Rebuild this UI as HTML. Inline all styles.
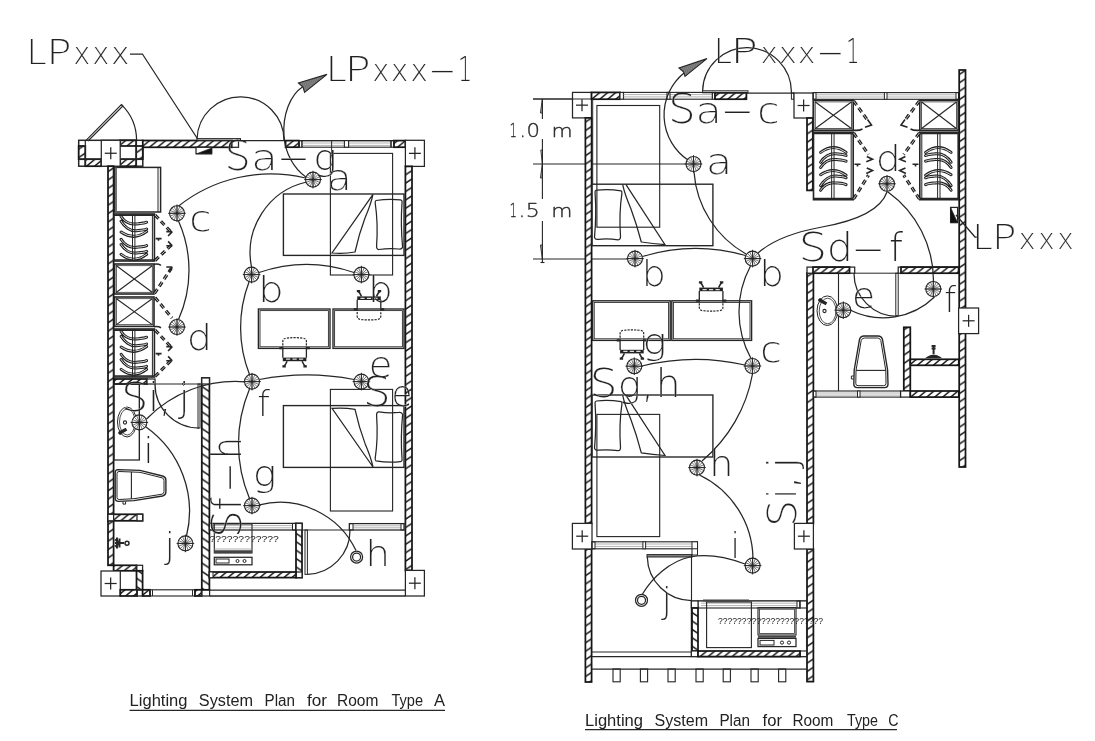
<!DOCTYPE html>
<html><head><meta charset="utf-8"><title>Lighting System Plan</title>
<style>
html,body{margin:0;padding:0;background:#fff;}
body{width:1095px;height:741px;overflow:hidden;}
svg{display:block;filter:grayscale(1);}
.t{font-family:"DejaVu Sans Light","DejaVu Sans","Liberation Sans",sans-serif;font-weight:200;paint-order:fill stroke;stroke:#fff;}
.s{font-family:"Liberation Sans",sans-serif;}
</style></head><body>
<svg width="1095" height="741" viewBox="0 0 1095 741">
<defs>
<pattern id="hv" patternUnits="userSpaceOnUse" width="12.6" height="8.4">
<rect width="12.6" height="8.4" fill="#fff"/>
<path d="M-12.6,8.4 L12.6,-8.4 M0,8.4 L12.6,0 M0,16.8 L25.2,0" stroke="#161616" stroke-width="1.45"/>
</pattern>
<pattern id="hvf" patternUnits="userSpaceOnUse" width="12.6" height="8.4">
<rect width="12.6" height="8.4" fill="#fff"/>
<path d="M-12.6,-8.4 L12.6,8.4 M0,-8.4 L25.2,8.4 M-12.6,0 L12.6,16.8" stroke="#161616" stroke-width="1.45"/>
</pattern>
<pattern id="hh" patternUnits="userSpaceOnUse" width="8" height="6.6">
<rect width="8" height="6.6" fill="#fff"/>
<path d="M-8,6.6 L8,-6.6 M0,6.6 L8,0 M0,13.2 L16,0" stroke="#161616" stroke-width="1.45"/>
</pattern>
<pattern id="h2" patternUnits="userSpaceOnUse" width="1.9" height="2" patternTransform="rotate(20)">
<rect width="2" height="2" fill="#fff"/><path d="M1,0 V2" stroke="#222" stroke-width="1.15"/>
</pattern>
<g id="lt">
<circle cx="0" cy="0" r="7.5" fill="#fff" stroke="#262626" stroke-width="1.1"/>
<path d="M0,0 L7.50,0.00 M0,0 L6.93,2.87 M0,0 L5.30,5.30 M0,0 L2.87,6.93 M0,0 L0.00,7.50 M0,0 L-2.87,6.93 M0,0 L-5.30,5.30 M0,0 L-6.93,2.87 M0,0 L-7.50,0.00 M0,0 L-6.93,-2.87 M0,0 L-5.30,-5.30 M0,0 L-2.87,-6.93 M0,0 L-0.00,-7.50 M0,0 L2.87,-6.93 M0,0 L5.30,-5.30 M0,0 L6.93,-2.87" stroke="#262626" stroke-width="0.62"/>
<path d="M-8.8,0 H8.8 M0,-8.8 V8.8" stroke="#262626" stroke-width="1"/>
</g>
</defs>
<rect width="1095" height="741" fill="#fff"/>
<rect x="78.70" y="140.30" width="64.10" height="25.90" fill="#fff" stroke="#262626" stroke-width="1.5"/>
<rect x="78.70" y="146.00" width="6.60" height="13.20" fill="url(#hv)" stroke="#161616" stroke-width="1.75"/>
<rect x="85.30" y="159.20" width="16.00" height="7.00" fill="url(#hh)" stroke="#161616" stroke-width="1.75"/>
<rect x="120.20" y="140.30" width="16.00" height="5.70" fill="url(#hh)" stroke="#161616" stroke-width="1.75"/>
<rect x="120.20" y="159.20" width="16.00" height="7.00" fill="url(#hh)" stroke="#161616" stroke-width="1.75"/>
<rect x="136.20" y="146.00" width="6.60" height="13.20" fill="url(#hv)" stroke="#161616" stroke-width="1.75"/>
<line x1="85.30" y1="140.30" x2="85.30" y2="166.20" stroke="#262626" stroke-width="1.25" />
<line x1="136.20" y1="140.30" x2="136.20" y2="166.20" stroke="#262626" stroke-width="1.25" />
<line x1="78.70" y1="146.00" x2="85.30" y2="146.00" stroke="#262626" stroke-width="1.25" />
<line x1="78.70" y1="159.20" x2="142.80" y2="159.20" stroke="#262626" stroke-width="1.25" />
<rect x="101.30" y="140.30" width="18.90" height="25.90" fill="#fff" stroke="#262626" stroke-width="1.25"/>
<line x1="104.75" y1="153.25" x2="116.75" y2="153.25" stroke="#262626" stroke-width="1.25" />
<line x1="110.75" y1="147.25" x2="110.75" y2="159.25" stroke="#262626" stroke-width="1.25" />
<path d="M86,140.3 L121.4,104.6 L122.9,106 L88,141" fill="none" stroke="#262626" stroke-width="1.12" />
<path d="M121.4,104.6 A50,50 0 0 1 136.6,140.3" fill="none" stroke="#262626" stroke-width="1.25" />
<rect x="142.80" y="140.50" width="89.20" height="6.80" fill="url(#hh)" stroke="#161616" stroke-width="1.75"/>
<rect x="232.00" y="140.50" width="6.50" height="6.80" fill="#fff" stroke="#262626" stroke-width="1.25"/>
<rect x="197.00" y="138.60" width="43.50" height="1.90" fill="none" stroke="#262626" stroke-width="1.0"/>
<line x1="238.50" y1="140.60" x2="405.40" y2="140.60" stroke="#262626" stroke-width="1.25" />
<rect x="196.00" y="147.30" width="15.70" height="6.50" fill="#fff" stroke="#262626" stroke-width="1.25"/>
<path d="M196.5,153.8 L211.7,153.8 L211.7,148 Z" fill="#111" stroke="#262626" stroke-width="0.62" />
<rect x="285.60" y="140.60" width="13.40" height="6.60" fill="url(#hh)" stroke="#161616" stroke-width="1.75"/>
<rect x="299.00" y="140.60" width="3.00" height="6.60" fill="none" stroke="#262626" stroke-width="1.12"/>
<rect x="302.00" y="140.60" width="89.00" height="6.60" fill="none" stroke="#262626" stroke-width="1.12"/>
<line x1="302.00" y1="143.00" x2="391.00" y2="143.00" stroke="#999" stroke-width="0.75" />
<line x1="302.00" y1="145.40" x2="391.00" y2="145.40" stroke="#999" stroke-width="0.75" />
<rect x="344.40" y="140.60" width="4.20" height="6.60" fill="#fff" stroke="#262626" stroke-width="1.12"/>
<rect x="391.00" y="140.60" width="3.00" height="6.60" fill="none" stroke="#262626" stroke-width="1.12"/>
<rect x="394.00" y="140.60" width="11.40" height="6.60" fill="url(#hh)" stroke="#161616" stroke-width="1.75"/>
<rect x="405.40" y="140.30" width="19.00" height="26.10" fill="#fff" stroke="#262626" stroke-width="1.25"/>
<line x1="408.90" y1="153.35" x2="420.90" y2="153.35" stroke="#262626" stroke-width="1.25" />
<line x1="414.90" y1="147.35" x2="414.90" y2="159.35" stroke="#262626" stroke-width="1.25" />
<rect x="108.00" y="166.20" width="5.60" height="399.10" fill="url(#hv)" stroke="#161616" stroke-width="1.75"/>
<rect x="405.40" y="166.40" width="6.60" height="404.00" fill="url(#hv)" stroke="#161616" stroke-width="1.75"/>
<rect x="113.60" y="565.30" width="22.90" height="5.50" fill="url(#hh)" stroke="#161616" stroke-width="1.75"/>
<rect x="136.50" y="565.30" width="6.10" height="5.50" fill="none" stroke="#262626" stroke-width="1.25"/>
<rect x="136.50" y="570.80" width="6.10" height="19.00" fill="url(#hvf)" stroke="#161616" stroke-width="1.75"/>
<rect x="101.00" y="571.00" width="19.30" height="25.00" fill="#fff" stroke="#262626" stroke-width="1.25"/>
<line x1="104.65" y1="583.50" x2="116.65" y2="583.50" stroke="#262626" stroke-width="1.25" />
<line x1="110.65" y1="577.50" x2="110.65" y2="589.50" stroke="#262626" stroke-width="1.25" />
<rect x="120.30" y="589.80" width="16.70" height="6.20" fill="url(#hh)" stroke="#161616" stroke-width="1.75"/>
<rect x="137.00" y="589.80" width="5.60" height="6.20" fill="none" stroke="#262626" stroke-width="1.25"/>
<rect x="142.60" y="589.80" width="7.40" height="6.20" fill="url(#hh)" stroke="#161616" stroke-width="1.75"/>
<rect x="150.00" y="589.80" width="45.00" height="6.20" fill="none" stroke="#262626" stroke-width="1.12"/>
<line x1="152.50" y1="589.80" x2="152.50" y2="596.00" stroke="#262626" stroke-width="1.0" />
<line x1="192.50" y1="589.80" x2="192.50" y2="596.00" stroke="#262626" stroke-width="1.0" />
<rect x="195.00" y="589.80" width="6.60" height="6.20" fill="url(#hh)" stroke="#161616" stroke-width="1.75"/>
<rect x="201.60" y="589.80" width="8.00" height="6.20" fill="none" stroke="#262626" stroke-width="1.25"/>
<line x1="209.60" y1="590.00" x2="405.40" y2="590.00" stroke="#262626" stroke-width="1.25" />
<line x1="209.60" y1="596.00" x2="405.40" y2="596.00" stroke="#262626" stroke-width="1.5" />
<rect x="405.40" y="570.40" width="19.00" height="25.60" fill="#fff" stroke="#262626" stroke-width="1.25"/>
<line x1="408.90" y1="583.20" x2="420.90" y2="583.20" stroke="#262626" stroke-width="1.25" />
<line x1="414.90" y1="577.20" x2="414.90" y2="589.20" stroke="#262626" stroke-width="1.25" />
<rect x="201.80" y="378.00" width="7.60" height="211.80" fill="url(#hvf)" stroke="#161616" stroke-width="1.75"/>
<rect x="201.80" y="378.00" width="7.60" height="6.00" fill="#fff" stroke="#262626" stroke-width="1.25"/>
<rect x="114.40" y="167.40" width="46.20" height="44.60" fill="#fff" stroke="#262626" stroke-width="1.5"/>
<line x1="158.00" y1="167.40" x2="158.00" y2="212.00" stroke="#262626" stroke-width="1.0" />
<line x1="116.00" y1="167.40" x2="116.00" y2="212.00" stroke="#666" stroke-width="1.88" />
<rect x="114.00" y="214.00" width="40.40" height="47.00" fill="#fff" stroke="#262626" stroke-width="1.62"/>
<line x1="152.40" y1="214.00" x2="152.40" y2="261.00" stroke="#262626" stroke-width="1.0" />
<line x1="114.00" y1="215.20" x2="154.40" y2="215.20" stroke="#262626" stroke-width="1.75" />
<line x1="114.00" y1="259.80" x2="154.40" y2="259.80" stroke="#262626" stroke-width="1.25" />
<g transform="translate(114.0,237.9) scale(1,-1)" fill="none" stroke-linecap="round">
<path d="M7.1,-16.5 Q19.9,-26.3 32.6,-16.5 M7.1,-6.6 C10.3,-11.8 16.1,-15.8 22.6,-15.1 C26.6,-14.7 30.1,-14.6 32.6,-13.4 M7.1,-1.4 C10.3,-6.6 16.1,-10.1 22.6,-9.4 C26.6,-9.0 30.1,-8.9 32.6,-7.7 M7.1,5.8 Q19.9,-3.0 32.6,6.3 M7.1,16.7 C10.3,11.5 16.1,6.5 22.6,7.2 C26.6,7.6 30.1,7.7 32.6,8.9 M7.1,21.4 C10.3,16.2 16.1,13.3 22.6,14.0 C26.6,14.4 30.1,14.5 32.6,15.7" stroke="#202020" stroke-width="3"/>
<path d="M7.1,-16.5 Q19.9,-26.3 32.6,-16.5 M7.1,-6.6 C10.3,-11.8 16.1,-15.8 22.6,-15.1 C26.6,-14.7 30.1,-14.6 32.6,-13.4 M7.1,-1.4 C10.3,-6.6 16.1,-10.1 22.6,-9.4 C26.6,-9.0 30.1,-8.9 32.6,-7.7 M7.1,5.8 Q19.9,-3.0 32.6,6.3 M7.1,16.7 C10.3,11.5 16.1,6.5 22.6,7.2 C26.6,7.6 30.1,7.7 32.6,8.9 M7.1,21.4 C10.3,16.2 16.1,13.3 22.6,14.0 C26.6,14.4 30.1,14.5 32.6,15.7" stroke="#fff" stroke-width="0.85"/>
</g>
<line x1="132.50" y1="214.00" x2="132.50" y2="261.00" stroke="#262626" stroke-width="1.0" />
<line x1="134.90" y1="214.00" x2="134.90" y2="261.00" stroke="#262626" stroke-width="1.0" />
<rect x="114.60" y="264.00" width="39.40" height="30.00" fill="none" stroke="#262626" stroke-width="1.62"/>
<rect x="116.30" y="265.70" width="36.00" height="26.60" fill="none" stroke="#262626" stroke-width="0.75"/>
<line x1="116.10" y1="265.50" x2="152.50" y2="292.50" stroke="#262626" stroke-width="1.12" />
<line x1="116.10" y1="292.50" x2="152.50" y2="265.50" stroke="#262626" stroke-width="1.12" />
<rect x="114.60" y="297.00" width="39.40" height="29.40" fill="none" stroke="#262626" stroke-width="1.62"/>
<rect x="116.30" y="298.70" width="36.00" height="26.00" fill="none" stroke="#262626" stroke-width="0.75"/>
<line x1="116.10" y1="298.50" x2="152.50" y2="324.90" stroke="#262626" stroke-width="1.12" />
<line x1="116.10" y1="324.90" x2="152.50" y2="298.50" stroke="#262626" stroke-width="1.12" />
<rect x="114.00" y="329.00" width="40.40" height="48.00" fill="#fff" stroke="#262626" stroke-width="1.62"/>
<line x1="152.40" y1="329.00" x2="152.40" y2="377.00" stroke="#262626" stroke-width="1.0" />
<line x1="114.00" y1="330.20" x2="154.40" y2="330.20" stroke="#262626" stroke-width="1.75" />
<line x1="114.00" y1="375.80" x2="154.40" y2="375.80" stroke="#262626" stroke-width="1.25" />
<g transform="translate(114.0,352.9) scale(1,-1)" fill="none" stroke-linecap="round">
<path d="M7.1,-16.5 Q19.9,-26.3 32.6,-16.5 M7.1,-6.6 C10.3,-11.8 16.1,-15.8 22.6,-15.1 C26.6,-14.7 30.1,-14.6 32.6,-13.4 M7.1,-1.4 C10.3,-6.6 16.1,-10.1 22.6,-9.4 C26.6,-9.0 30.1,-8.9 32.6,-7.7 M7.1,5.8 Q19.9,-3.0 32.6,6.3 M7.1,16.7 C10.3,11.5 16.1,6.5 22.6,7.2 C26.6,7.6 30.1,7.7 32.6,8.9 M7.1,21.4 C10.3,16.2 16.1,13.3 22.6,14.0 C26.6,14.4 30.1,14.5 32.6,15.7" stroke="#202020" stroke-width="3"/>
<path d="M7.1,-16.5 Q19.9,-26.3 32.6,-16.5 M7.1,-6.6 C10.3,-11.8 16.1,-15.8 22.6,-15.1 C26.6,-14.7 30.1,-14.6 32.6,-13.4 M7.1,-1.4 C10.3,-6.6 16.1,-10.1 22.6,-9.4 C26.6,-9.0 30.1,-8.9 32.6,-7.7 M7.1,5.8 Q19.9,-3.0 32.6,6.3 M7.1,16.7 C10.3,11.5 16.1,6.5 22.6,7.2 C26.6,7.6 30.1,7.7 32.6,8.9 M7.1,21.4 C10.3,16.2 16.1,13.3 22.6,14.0 C26.6,14.4 30.1,14.5 32.6,15.7" stroke="#fff" stroke-width="0.85"/>
</g>
<line x1="132.50" y1="329.00" x2="132.50" y2="377.00" stroke="#262626" stroke-width="1.0" />
<line x1="134.90" y1="329.00" x2="134.90" y2="377.00" stroke="#262626" stroke-width="1.0" />
<line x1="155.00" y1="215.00" x2="171.50" y2="232.50" stroke="#1c1c1c" stroke-width="3.12" stroke-dasharray="5.2 3.4"/>
<line x1="155.00" y1="215.00" x2="171.50" y2="232.50" stroke="#fff" stroke-width="0.69" stroke-dasharray="5.2 3.4"/>
<line x1="155.00" y1="260.50" x2="171.50" y2="245.00" stroke="#1c1c1c" stroke-width="3.12" stroke-dasharray="5.2 3.4"/>
<line x1="155.00" y1="260.50" x2="171.50" y2="245.00" stroke="#fff" stroke-width="0.69" stroke-dasharray="5.2 3.4"/>
<path d="M172.3,231.6 h-6 M172.3,231.6 l-4.2,4.4 M172.3,245.8 h-6 M172.3,245.8 l-4.2,-4.4 M155.6,238.6 h6 M158.5,238.6 v2.2" fill="none" stroke="#262626" stroke-width="1.62" />
<line x1="154.50" y1="293.50" x2="171.50" y2="268.00" stroke="#1c1c1c" stroke-width="3.12" stroke-dasharray="5.2 3.4"/>
<line x1="154.50" y1="293.50" x2="171.50" y2="268.00" stroke="#fff" stroke-width="0.69" stroke-dasharray="5.2 3.4"/>
<path d="M172.3,267 h-6 M172.3,267 l-3.6,5 M154,264.3 q4,-0.8 7,1" fill="none" stroke="#262626" stroke-width="1.5" />
<line x1="155.00" y1="297.50" x2="172.00" y2="318.00" stroke="#1c1c1c" stroke-width="3.12" stroke-dasharray="5.2 3.4"/>
<line x1="155.00" y1="297.50" x2="172.00" y2="318.00" stroke="#fff" stroke-width="0.69" stroke-dasharray="5.2 3.4"/>
<line x1="155.00" y1="330.00" x2="171.50" y2="347.50" stroke="#1c1c1c" stroke-width="3.12" stroke-dasharray="5.2 3.4"/>
<line x1="155.00" y1="330.00" x2="171.50" y2="347.50" stroke="#fff" stroke-width="0.69" stroke-dasharray="5.2 3.4"/>
<line x1="155.00" y1="376.50" x2="171.50" y2="360.00" stroke="#1c1c1c" stroke-width="3.12" stroke-dasharray="5.2 3.4"/>
<line x1="155.00" y1="376.50" x2="171.50" y2="360.00" stroke="#fff" stroke-width="0.69" stroke-dasharray="5.2 3.4"/>
<path d="M172.3,346.6 h-6 M172.3,346.6 l-4.2,4.4 M172.3,360.8 h-6 M172.3,360.8 l-4.2,-4.4 M155.6,353.6 h6 M158.5,353.6 v2.2 M154,326.8 q4,-0.8 7,1" fill="none" stroke="#262626" stroke-width="1.62" />
<rect x="114.00" y="379.00" width="33.00" height="5.00" fill="url(#hh)" stroke="#161616" stroke-width="1.75"/>
<rect x="147.00" y="379.00" width="8.00" height="5.00" fill="#fff" stroke="#262626" stroke-width="1.25"/>
<line x1="155.00" y1="384.00" x2="201.80" y2="384.00" stroke="#262626" stroke-width="1.12" />
<path d="M183.6,382.6 l1.4,1.4 l-1.4,1.4 l-1.4,-1.4 Z" fill="none" stroke="#262626" stroke-width="0.88" />
<rect x="198.00" y="384.00" width="2.00" height="44.00" fill="none" stroke="#262626" stroke-width="1.0"/>
<path d="M155,384 A44,44 0 0 0 199,428" fill="none" stroke="#262626" stroke-width="1.25" />
<rect x="114.00" y="384.00" width="25.40" height="76.00" fill="none" stroke="#262626" stroke-width="1.25"/>
<line x1="139.40" y1="460.00" x2="139.40" y2="590.00" stroke="#262626" stroke-width="0.0" />
<ellipse cx="127" cy="422" rx="9.5" ry="15" fill="none" stroke="#262626" stroke-width="1"/>
<ellipse cx="127.3" cy="422" rx="7.8" ry="13" fill="none" stroke="#262626" stroke-width="0.8"/>
<circle cx="125.00" cy="422.50" r="1.6" fill="none" stroke="#262626" stroke-width="1.12"/>
<path d="M120.5,432.5 l6,-3.4" fill="none" stroke="#262626" stroke-width="3.25" />
<circle cx="120.30" cy="432.80" r="1.6" fill="#222" stroke="#262626" stroke-width="1.0"/>
<path d="M118,469.6 L140,470.4 L162.5,476 Q165.9,477 165.9,480 L165.9,492 Q165.9,495 162.5,496 L134,500.6 L118.5,501.4 Q115.2,501.4 115.2,498 L115.2,473 Q115.2,469.6 118,469.6 Z" fill="#fff" stroke="#262626" stroke-width="1.38" />
<path d="M119,471.5 L140,472.3 L162,477.8 Q164,478.4 164,480.5 L164,491.5 Q164,493.6 162,494.2 L134,498.7 L119.2,499.5 Q117,499.5 117,497.5 L117,473.5 Q117,471.5 119,471.5 Z" fill="none" stroke="#262626" stroke-width="1.0" />
<line x1="131.40" y1="471.80" x2="131.40" y2="499.00" stroke="#262626" stroke-width="1.12" />
<path d="M123,501.5 v2.6 h2.6 v-2.6" fill="none" stroke="#262626" stroke-width="1.0" />
<rect x="108.00" y="514.30" width="34.60" height="6.50" fill="url(#hh)" stroke="#161616" stroke-width="1.75"/>
<rect x="108.00" y="514.30" width="5.60" height="6.50" fill="#fff" stroke="#262626" stroke-width="1.25"/>
<rect x="137.00" y="514.30" width="5.60" height="6.50" fill="#fff" stroke="#262626" stroke-width="1.25"/>
<path d="M115,543 h9 M117,537.5 v11 M119.5,538.5 v9 M115,539.5 l5,3.5 l-5,3.5" fill="none" stroke="#262626" stroke-width="2.0" />
<circle cx="127.00" cy="543.30" r="2" fill="none" stroke="#262626" stroke-width="1.5"/>
<rect x="283.40" y="194.00" width="120.60" height="61.40" fill="none" stroke="#262626" stroke-width="1.38"/>
<rect x="330.40" y="153.40" width="62.20" height="121.60" fill="none" stroke="#262626" stroke-width="1.12"/>
<line x1="331.60" y1="140.60" x2="331.60" y2="153.40" stroke="#262626" stroke-width="1.0" />
<rect x="283.40" y="405.60" width="120.60" height="61.80" fill="none" stroke="#262626" stroke-width="1.38"/>
<rect x="330.40" y="389.40" width="62.20" height="121.60" fill="none" stroke="#262626" stroke-width="1.12"/>
<path d="M376.0,200.5 Q388.0,198.5 400.5,199.8 Q402.5,200.0 402.0,203.0 Q400.5,224.0 402.6,247.0 Q402.0,249.4 399.0,249.0 Q389.0,248.0 379.0,249.5 Q376.5,249.6 376.6,246.0 Q378.2,223.0 375.2,203.0 Q375.0,200.8 376.0,200.5 Z" fill="none" stroke="#262626" stroke-width="1.25" />
<path d="M373.0,194.4 L332.0,253.0 Q344.0,254.0 355.0,252.0 Q359.0,234.0 365.0,218.0 Q371.0,204.0 373.0,194.4" fill="none" stroke="#262626" stroke-width="1.25" />
<g transform="translate(0,873) scale(1,-1)">
<path d="M376.0,412.1 Q388.0,410.1 400.5,411.4 Q402.5,411.6 402.0,414.6 Q400.5,435.6 402.6,458.6 Q402.0,461.0 399.0,460.6 Q389.0,459.6 379.0,461.1 Q376.5,461.2 376.6,457.6 Q378.2,434.6 375.2,414.6 Q375.0,412.4 376.0,412.1 Z" fill="none" stroke="#262626" stroke-width="1.25" />
<path d="M373.0,406.0 L332.0,464.6 Q344.0,465.6 355.0,463.6 Q359.0,445.6 365.0,429.6 Q371.0,415.6 373.0,406.0" fill="none" stroke="#262626" stroke-width="1.25" />
</g>
<rect x="258.40" y="309.00" width="71.60" height="39.40" fill="#fff" stroke="#262626" stroke-width="1.38"/>
<rect x="260.00" y="310.60" width="68.40" height="36.20" fill="none" stroke="#262626" stroke-width="0.88"/>
<rect x="333.00" y="309.00" width="71.00" height="39.40" fill="#fff" stroke="#262626" stroke-width="1.38"/>
<rect x="334.60" y="310.60" width="67.80" height="36.20" fill="none" stroke="#262626" stroke-width="0.88"/>
<g transform="translate(294.6,348.8) scale(1,1)" fill="none" stroke="#262626">
<path d="M-11.8,0 L-11.8,-7.5 Q-11.8,-10.3 -8,-10.7 Q0,-11.6 8,-10.7 Q11.8,-10.3 11.8,-7.5 L11.8,0" stroke-width="1.2" stroke-dasharray="2.2 1.1"/>
<path d="M-11.8,0 V9 M11.8,0 V9" stroke-width="1.3"/>
<path d="M-11.8,10.6 H11.8" stroke="#222" stroke-width="3.6"/>
<path d="M-8.6,10.4 h4.2 M-2.1,10.4 h4.2 M4.4,10.4 h4.2" stroke="#ddd" stroke-width="1.3"/>
<path d="M-15.2,-0.6 h3.2 M12,-0.6 h3.2" stroke-width="2.2"/>
<path d="M-7.5,12.4 q-1.5,3.5 -3.2,5 M7.5,12.4 q1.5,3.5 3.2,5" stroke-width="1.5"/>
<path d="M-12.2,17.6 h3.4 M8.8,17.6 h3.4" stroke-width="2.2"/>
</g>
<g transform="translate(369.0,308.8) scale(1,-1)" fill="none" stroke="#262626">
<path d="M-11.8,0 L-11.8,-7.5 Q-11.8,-10.3 -8,-10.7 Q0,-11.6 8,-10.7 Q11.8,-10.3 11.8,-7.5 L11.8,0" stroke-width="1.2" stroke-dasharray="2.2 1.1"/>
<path d="M-11.8,0 V9 M11.8,0 V9" stroke-width="1.3"/>
<path d="M-11.8,10.6 H11.8" stroke="#222" stroke-width="3.6"/>
<path d="M-8.6,10.4 h4.2 M-2.1,10.4 h4.2 M4.4,10.4 h4.2" stroke="#ddd" stroke-width="1.3"/>
<path d="M-15.2,-0.6 h3.2 M12,-0.6 h3.2" stroke-width="2.2"/>
<path d="M-7.5,12.4 q-1.5,3.5 -3.2,5 M7.5,12.4 q1.5,3.5 3.2,5" stroke-width="1.5"/>
<path d="M-12.2,17.6 h3.4 M8.8,17.6 h3.4" stroke-width="2.2"/>
</g>
<rect x="209.40" y="523.40" width="86.60" height="6.60" fill="#fff" stroke="#262626" stroke-width="1.25"/>
<line x1="212.00" y1="525.60" x2="293.00" y2="525.60" stroke="#999" stroke-width="0.75" />
<line x1="212.00" y1="527.80" x2="293.00" y2="527.80" stroke="#999" stroke-width="0.75" />
<rect x="209.40" y="523.40" width="3.60" height="6.60" fill="none" stroke="#262626" stroke-width="1.0"/>
<rect x="292.50" y="523.40" width="3.50" height="6.60" fill="none" stroke="#262626" stroke-width="1.0"/>
<rect x="296.00" y="523.40" width="6.00" height="54.20" fill="url(#hvf)" stroke="#161616" stroke-width="1.75"/>
<rect x="296.00" y="523.40" width="6.00" height="6.60" fill="#fff" stroke="#262626" stroke-width="1.25"/>
<rect x="296.00" y="572.00" width="6.00" height="5.60" fill="#fff" stroke="#262626" stroke-width="1.25"/>
<rect x="209.40" y="572.00" width="86.60" height="5.60" fill="url(#hh)" stroke="#161616" stroke-width="1.75"/>
<rect x="209.40" y="572.00" width="3.60" height="5.60" fill="#fff" stroke="#262626" stroke-width="1.0"/>
<rect x="214.30" y="524.00" width="37.70" height="29.00" fill="none" stroke="#262626" stroke-width="1.12"/>
<line x1="214.30" y1="551.60" x2="252.00" y2="551.60" stroke="#444" stroke-width="2.75" />
<line x1="214.30" y1="549.00" x2="252.00" y2="549.00" stroke="#999" stroke-width="0.75" />
<rect x="214.30" y="557.30" width="37.70" height="7.50" fill="none" stroke="#262626" stroke-width="1.25"/>
<rect x="216.00" y="559.00" width="13.00" height="4.00" fill="none" stroke="#262626" stroke-width="1.0"/>
<circle cx="237.50" cy="561.00" r="1.5" fill="none" stroke="#262626" stroke-width="1.0"/>
<circle cx="244.50" cy="561.00" r="1.5" fill="none" stroke="#262626" stroke-width="1.0"/>
<rect x="305.00" y="530.00" width="2.40" height="44.40" fill="none" stroke="#262626" stroke-width="1.0"/>
<path d="M307.4,574.4 A44,44 0 0 0 350,530" fill="none" stroke="#262626" stroke-width="1.25" />
<line x1="302.00" y1="530.00" x2="350.00" y2="530.00" stroke="#262626" stroke-width="1.0" />
<rect x="349.40" y="523.60" width="54.60" height="6.40" fill="#fff" stroke="#262626" stroke-width="1.25"/>
<line x1="353.00" y1="525.80" x2="401.00" y2="525.80" stroke="#999" stroke-width="0.75" />
<line x1="353.00" y1="527.80" x2="401.00" y2="527.80" stroke="#999" stroke-width="0.75" />
<rect x="349.40" y="523.60" width="3.60" height="6.40" fill="none" stroke="#262626" stroke-width="1.0"/>
<rect x="401.00" y="523.60" width="4.40" height="6.40" fill="none" stroke="#262626" stroke-width="1.0"/>
<path d="M130,54 L142.4,54 L197,138" fill="none" stroke="#262626" stroke-width="1.25" />
<path d="M197,139 A43.51,43.51 0 0 1 284,140.3" fill="none" stroke="#262626" stroke-width="1.25" />
<path d="M303,86.5 C290,95 282.5,115 284,136 C285,152 293,168 306.5,177.5" fill="none" stroke="#262626" stroke-width="1.25" />
<path d="M327,74.4 L298.4,83 L303,87 L304.6,92.4 Z" fill="url(#h2)" stroke="#262626" stroke-width="1.12" />
<path d="M305.50,178.00 A148.77,148.77 0 0 0 178.00,206.50" fill="none" stroke="#262626" stroke-width="1.25" />
<path d="M306.50,182.00 A72.70,72.70 0 0 0 251.50,267.00" fill="none" stroke="#262626" stroke-width="1.25" />
<path d="M178.50,221.00 A120.75,120.75 0 0 1 178.50,319.50" fill="none" stroke="#262626" stroke-width="1.25" />
<path d="M259.00,272.50 A146.62,146.62 0 0 1 354.00,272.50" fill="none" stroke="#262626" stroke-width="1.25" />
<path d="M249.00,282.00 A127.99,127.99 0 0 0 249.50,374.50" fill="none" stroke="#262626" stroke-width="1.25" />
<path d="M259.50,379.50 A249.98,249.98 0 0 1 354.00,379.50" fill="none" stroke="#262626" stroke-width="1.25" />
<path d="M146.50,419.00 A123.83,123.83 0 0 1 244.50,381.80" fill="none" stroke="#262626" stroke-width="1.25" />
<path d="M146.00,427.00 A103.42,103.42 0 0 1 186.50,536.00" fill="none" stroke="#262626" stroke-width="1.25" />
<path d="M249.50,389.00 A141.73,141.73 0 0 0 249.50,498.50" fill="none" stroke="#262626" stroke-width="1.25" />
<path d="M259.50,504.80 A84.40,84.40 0 0 1 356.00,550.50" fill="none" stroke="#262626" stroke-width="1.25" />
<use href="#lt" x="313.00" y="179.60"/>
<use href="#lt" x="177.00" y="213.30"/>
<use href="#lt" x="251.60" y="274.60"/>
<use href="#lt" x="361.40" y="274.60"/>
<use href="#lt" x="177.00" y="327.00"/>
<use href="#lt" x="252.00" y="381.60"/>
<use href="#lt" x="361.40" y="381.60"/>
<use href="#lt" x="139.40" y="422.40"/>
<use href="#lt" x="185.40" y="543.40"/>
<use href="#lt" x="252.00" y="505.60"/>
<circle cx="356.60" cy="557.00" r="6" fill="none" stroke="#262626" stroke-width="1.25"/>
<circle cx="356.60" cy="557.00" r="4" fill="none" stroke="#262626" stroke-width="1.25"/>
<line x1="139.40" y1="384.00" x2="139.40" y2="460.00" stroke="#262626" stroke-width="1.12" />
<text class="t" aria-label="LPxxx" y="64.4" font-size="34" fill="#222" stroke-width="0.15"><tspan x="26.62" textLength="20.00" lengthAdjust="spacingAndGlyphs">L</tspan><tspan x="46.53" textLength="25.02" lengthAdjust="spacingAndGlyphs">P</tspan><tspan x="73.43" font-size="30.1" textLength="16.63" lengthAdjust="spacingAndGlyphs">x</tspan><tspan x="92.43" font-size="30.1" textLength="16.63" lengthAdjust="spacingAndGlyphs">x</tspan><tspan x="111.31" font-size="30.1" textLength="17.99" lengthAdjust="spacingAndGlyphs">x</tspan></text>
<text class="t" aria-label="LPxxx-1" y="80.8" font-size="34" fill="#222" stroke-width="0.15"><tspan x="326.09" textLength="20.56" lengthAdjust="spacingAndGlyphs">L</tspan><tspan x="344.76" textLength="25.88" lengthAdjust="spacingAndGlyphs">P</tspan><tspan x="372.43" font-size="30.1" textLength="16.63" lengthAdjust="spacingAndGlyphs">x</tspan><tspan x="390.99" font-size="30.1" textLength="17.12" lengthAdjust="spacingAndGlyphs">x</tspan><tspan x="410.38" font-size="30.1" textLength="17.25" lengthAdjust="spacingAndGlyphs">x</tspan><tspan x="428.11" textLength="28.79" lengthAdjust="spacingAndGlyphs">-</tspan><tspan x="458.06" textLength="14.13" lengthAdjust="spacingAndGlyphs">1</tspan></text>
<text class="t" aria-label="Sa-g" y="170.3" font-size="40" fill="#222" stroke-width="0.15"><tspan x="224.88" textLength="25.84" lengthAdjust="spacingAndGlyphs">S</tspan><tspan x="251.25" font-size="35.4" textLength="26.57" lengthAdjust="spacingAndGlyphs">a</tspan><tspan x="276.40" textLength="34.00" lengthAdjust="spacingAndGlyphs">-</tspan><tspan x="313.24" font-size="35.4" textLength="23.55" lengthAdjust="spacingAndGlyphs">g</tspan></text>
<text class="t" aria-label="a" y="190.3" font-size="36" fill="#222" stroke-width="0.15"><tspan x="326.66" textLength="24.95" lengthAdjust="spacingAndGlyphs">a</tspan></text>
<text class="t" aria-label="c" y="231.2" font-size="36" fill="#222" stroke-width="0.15"><tspan x="189.33" textLength="22.29" lengthAdjust="spacingAndGlyphs">c</tspan></text>
<text class="t" aria-label="d" y="350.0" font-size="36" fill="#222" stroke-width="0.15"><tspan x="186.82" textLength="25.34" lengthAdjust="spacingAndGlyphs">d</tspan></text>
<text class="t" aria-label="b" y="302.4" font-size="36" fill="#222" stroke-width="0.15"><tspan x="258.31" textLength="25.48" lengthAdjust="spacingAndGlyphs">b</tspan></text>
<text class="t" aria-label="b" y="302.4" font-size="36" fill="#222" stroke-width="0.15"><tspan x="368.39" textLength="24.48" lengthAdjust="spacingAndGlyphs">b</tspan></text>
<text class="t" aria-label="e" y="377.2" font-size="36" fill="#222" stroke-width="0.15"><tspan x="368.86" textLength="23.65" lengthAdjust="spacingAndGlyphs">e</tspan></text>
<text class="t" aria-label="Se" y="405.8" font-size="40" fill="#222" stroke-width="0.15"><tspan x="362.93" textLength="27.62" lengthAdjust="spacingAndGlyphs">S</tspan><tspan x="391.52" font-size="35.4" textLength="20.84" lengthAdjust="spacingAndGlyphs">e</tspan></text>
<text class="t" aria-label="f" y="415.6" font-size="36" fill="#222" stroke-width="0.15"><tspan x="257.35" textLength="12.77" lengthAdjust="spacingAndGlyphs">f</tspan></text>
<text class="t" aria-label="g" y="486.0" font-size="36" fill="#222" stroke-width="0.15"><tspan x="252.82" textLength="23.68" lengthAdjust="spacingAndGlyphs">g</tspan></text>
<text class="t" aria-label="h" y="566.0" font-size="36" fill="#222" stroke-width="0.15"><tspan x="365.61" textLength="24.55" lengthAdjust="spacingAndGlyphs">h</tspan></text>
<text class="t" aria-label="Si,j" y="410.6" font-size="39" fill="#222" stroke-width="0.15"><tspan x="121.23" textLength="26.93" lengthAdjust="spacingAndGlyphs">S</tspan><tspan x="148.32" textLength="10.83" lengthAdjust="spacingAndGlyphs">i</tspan><tspan x="159.04" textLength="12.40" lengthAdjust="spacingAndGlyphs">,</tspan><tspan x="178.71" textLength="10.83" lengthAdjust="spacingAndGlyphs">j</tspan></text>
<text class="t" aria-label="Sf-h" y="0" font-size="40" fill="#222" stroke-width="0.15" transform="translate(241.0,534.0) rotate(-90)"><tspan x="-3.91" textLength="27.89" lengthAdjust="spacingAndGlyphs">S</tspan><tspan x="23.59" textLength="13.24" lengthAdjust="spacingAndGlyphs">f</tspan><tspan x="40.74" textLength="31.53" lengthAdjust="spacingAndGlyphs">-</tspan><tspan x="75.05" textLength="22.09" lengthAdjust="spacingAndGlyphs">h</tspan></text>
<text class="t" aria-label="i" y="463.4" font-size="36" fill="#222" stroke-width="0.15"><tspan x="143.56" textLength="10.00" lengthAdjust="spacingAndGlyphs">i</tspan></text>
<text class="t" aria-label="j" y="557.5" font-size="36" fill="#222" stroke-width="0.15"><tspan x="164.85" textLength="10.00" lengthAdjust="spacingAndGlyphs">j</tspan></text>
<text class="s" x="209.4" y="541.5" font-size="8.2" fill="#222" textLength="69.5" lengthAdjust="spacingAndGlyphs">????????????</text>
<text class="s" y="706.4" font-size="16" fill="#222"><tspan x="129.6" textLength="57.9" lengthAdjust="spacingAndGlyphs">Lighting</tspan><tspan x="198.8" textLength="54.2" lengthAdjust="spacingAndGlyphs">System</tspan><tspan x="264.6" textLength="30.4" lengthAdjust="spacingAndGlyphs">Plan</tspan><tspan x="307" textLength="20.0" lengthAdjust="spacingAndGlyphs">for</tspan><tspan x="337" textLength="41.4" lengthAdjust="spacingAndGlyphs">Room</tspan><tspan x="391.4" textLength="31.6" lengthAdjust="spacingAndGlyphs">Type</tspan><tspan x="434" textLength="11.0" lengthAdjust="spacingAndGlyphs">A</tspan></text>
<line x1="129.60" y1="710.40" x2="445.00" y2="710.40" stroke="#262626" stroke-width="1.38" />
<line x1="533.00" y1="99.00" x2="591.50" y2="99.00" stroke="#262626" stroke-width="1.12" />
<line x1="533.00" y1="164.00" x2="686.00" y2="164.00" stroke="#262626" stroke-width="1.12" />
<line x1="533.00" y1="259.00" x2="627.50" y2="259.00" stroke="#262626" stroke-width="1.12" />
<line x1="542.40" y1="99.00" x2="542.40" y2="119.00" stroke="#262626" stroke-width="1.12" />
<line x1="542.40" y1="139.00" x2="542.40" y2="199.00" stroke="#262626" stroke-width="1.12" />
<line x1="542.40" y1="221.00" x2="542.40" y2="262.00" stroke="#262626" stroke-width="1.12" />
<path d="M542.4,99 l-2,14 h1.6 Z M542.4,164 l-1.6,-14 h1.6 Z M542.4,164 l-2,14 h1.6 Z M542.4,259 l-2,-14 h1.6 Z" fill="none" stroke="#262626" stroke-width="0.88" />
<line x1="540.50" y1="262.50" x2="544.50" y2="262.50" stroke="#262626" stroke-width="1.12" />
<text class="t" aria-label="1.0 m" y="136.6" font-size="20" fill="#2a2a2a" style="stroke:#2a2a2a" stroke-width="0.35"><tspan x="509.79" textLength="6.99" lengthAdjust="spacingAndGlyphs">1</tspan><tspan x="519.62" textLength="6.36" lengthAdjust="spacingAndGlyphs">.</tspan><tspan x="526.51" textLength="13.45" lengthAdjust="spacingAndGlyphs">0</tspan><tspan x="543.00" textLength="6.36" lengthAdjust="spacingAndGlyphs"> </tspan><tspan x="551.54" font-size="17.7" textLength="21.18" lengthAdjust="spacingAndGlyphs">m</tspan></text>
<text class="t" aria-label="1.5 m" y="217.0" font-size="20" fill="#2a2a2a" style="stroke:#2a2a2a" stroke-width="0.35"><tspan x="509.79" textLength="6.99" lengthAdjust="spacingAndGlyphs">1</tspan><tspan x="518.82" textLength="6.36" lengthAdjust="spacingAndGlyphs">.</tspan><tspan x="525.83" textLength="14.03" lengthAdjust="spacingAndGlyphs">5</tspan><tspan x="543.00" textLength="6.36" lengthAdjust="spacingAndGlyphs"> </tspan><tspan x="551.34" font-size="17.7" textLength="21.18" lengthAdjust="spacingAndGlyphs">m</tspan></text>
<rect x="572.50" y="92.40" width="19.00" height="25.50" fill="#fff" stroke="#262626" stroke-width="1.25"/>
<line x1="576.00" y1="105.15" x2="588.00" y2="105.15" stroke="#262626" stroke-width="1.25" />
<line x1="582.00" y1="99.15" x2="582.00" y2="111.15" stroke="#262626" stroke-width="1.25" />
<line x1="533.00" y1="99.00" x2="591.50" y2="99.00" stroke="#262626" stroke-width="1.12" />
<rect x="591.50" y="92.40" width="28.50" height="6.80" fill="url(#hh)" stroke="#161616" stroke-width="1.75"/>
<rect x="620.00" y="92.40" width="3.50" height="6.80" fill="#fff" stroke="#262626" stroke-width="1.12"/>
<rect x="623.50" y="92.40" width="88.90" height="6.80" fill="#fff" stroke="#262626" stroke-width="1.12"/>
<line x1="623.50" y1="94.60" x2="712.40" y2="94.60" stroke="#999" stroke-width="0.75" />
<line x1="623.50" y1="96.90" x2="712.40" y2="96.90" stroke="#999" stroke-width="0.75" />
<rect x="667.00" y="92.40" width="3.00" height="6.80" fill="#fff" stroke="#262626" stroke-width="1.12"/>
<rect x="712.40" y="92.40" width="2.60" height="6.80" fill="#fff" stroke="#262626" stroke-width="1.12"/>
<rect x="715.00" y="92.80" width="31.40" height="6.40" fill="url(#hh)" stroke="#161616" stroke-width="1.75"/>
<rect x="702.60" y="90.80" width="45.40" height="2.00" fill="none" stroke="#262626" stroke-width="1.0"/>
<line x1="746.40" y1="93.00" x2="794.00" y2="93.00" stroke="#262626" stroke-width="1.25" />
<rect x="791.40" y="93.00" width="2.60" height="6.20" fill="none" stroke="#262626" stroke-width="1.0"/>
<rect x="794.00" y="93.00" width="19.20" height="25.00" fill="#fff" stroke="#262626" stroke-width="1.25"/>
<line x1="797.60" y1="105.50" x2="809.60" y2="105.50" stroke="#262626" stroke-width="1.25" />
<line x1="803.60" y1="99.50" x2="803.60" y2="111.50" stroke="#262626" stroke-width="1.25" />
<rect x="813.20" y="92.60" width="145.40" height="6.70" fill="#fff" stroke="#262626" stroke-width="1.12"/>
<line x1="816.00" y1="94.80" x2="956.00" y2="94.80" stroke="#999" stroke-width="0.75" />
<line x1="816.00" y1="97.00" x2="956.00" y2="97.00" stroke="#999" stroke-width="0.75" />
<rect x="813.20" y="92.60" width="2.80" height="6.70" fill="none" stroke="#262626" stroke-width="1.0"/>
<rect x="884.40" y="92.60" width="2.60" height="6.70" fill="#fff" stroke="#262626" stroke-width="1.0"/>
<rect x="956.00" y="92.60" width="2.60" height="6.70" fill="none" stroke="#262626" stroke-width="1.0"/>
<rect x="585.40" y="117.90" width="6.20" height="405.50" fill="url(#hv)" stroke="#161616" stroke-width="1.75"/>
<rect x="585.40" y="549.00" width="6.20" height="133.00" fill="url(#hv)" stroke="#161616" stroke-width="1.75"/>
<rect x="572.40" y="523.40" width="19.60" height="25.60" fill="#fff" stroke="#262626" stroke-width="1.25"/>
<line x1="576.20" y1="536.20" x2="588.20" y2="536.20" stroke="#262626" stroke-width="1.25" />
<line x1="582.20" y1="530.20" x2="582.20" y2="542.20" stroke="#262626" stroke-width="1.25" />
<rect x="959.20" y="70.00" width="6.30" height="397.00" fill="url(#hv)" stroke="#161616" stroke-width="1.75"/>
<rect x="958.60" y="308.00" width="20.00" height="25.60" fill="#fff" stroke="#262626" stroke-width="1.25"/>
<line x1="962.60" y1="320.80" x2="974.60" y2="320.80" stroke="#262626" stroke-width="1.25" />
<line x1="968.60" y1="314.80" x2="968.60" y2="326.80" stroke="#262626" stroke-width="1.25" />
<rect x="807.00" y="118.00" width="5.80" height="72.40" fill="url(#hv)" stroke="#161616" stroke-width="1.75"/>
<rect x="807.00" y="273.00" width="6.40" height="250.40" fill="url(#hv)" stroke="#161616" stroke-width="1.75"/>
<rect x="807.00" y="549.00" width="6.40" height="132.60" fill="url(#hv)" stroke="#161616" stroke-width="1.75"/>
<rect x="794.40" y="523.40" width="19.00" height="25.60" fill="#fff" stroke="#262626" stroke-width="1.25"/>
<line x1="797.90" y1="536.20" x2="809.90" y2="536.20" stroke="#262626" stroke-width="1.25" />
<line x1="803.90" y1="530.20" x2="803.90" y2="542.20" stroke="#262626" stroke-width="1.25" />
<line x1="592.70" y1="99.20" x2="592.70" y2="184.20" stroke="#262626" stroke-width="1.0" />
<rect x="596.90" y="105.50" width="62.80" height="121.70" fill="none" stroke="#262626" stroke-width="1.12"/>
<rect x="813.50" y="100.20" width="39.70" height="30.00" fill="none" stroke="#262626" stroke-width="1.62"/>
<rect x="815.20" y="101.90" width="36.30" height="26.60" fill="none" stroke="#262626" stroke-width="0.75"/>
<line x1="815.00" y1="101.70" x2="851.70" y2="128.70" stroke="#262626" stroke-width="1.12" />
<line x1="815.00" y1="128.70" x2="851.70" y2="101.70" stroke="#262626" stroke-width="1.12" />
<rect x="919.80" y="100.20" width="38.40" height="30.00" fill="none" stroke="#262626" stroke-width="1.62"/>
<rect x="921.50" y="101.90" width="35.00" height="26.60" fill="none" stroke="#262626" stroke-width="0.75"/>
<line x1="921.30" y1="101.70" x2="956.70" y2="128.70" stroke="#262626" stroke-width="1.12" />
<line x1="921.30" y1="128.70" x2="956.70" y2="101.70" stroke="#262626" stroke-width="1.12" />
<rect x="813.50" y="132.20" width="39.70" height="67.50" fill="#fff" stroke="#262626" stroke-width="1.62"/>
<line x1="851.20" y1="132.20" x2="851.20" y2="199.70" stroke="#262626" stroke-width="1.0" />
<line x1="813.50" y1="133.40" x2="853.20" y2="133.40" stroke="#262626" stroke-width="1.75" />
<line x1="813.50" y1="198.50" x2="853.20" y2="198.50" stroke="#262626" stroke-width="1.5" />
<g transform="translate(813.5,168.9) scale(1,1)" fill="none" stroke-linecap="round">
<path d="M7.1,-16.5 Q19.9,-26.3 32.6,-16.5 M7.1,-6.6 C10.3,-11.8 16.1,-15.8 22.6,-15.1 C26.6,-14.7 30.1,-14.6 32.6,-13.4 M7.1,-1.4 C10.3,-6.6 16.1,-10.1 22.6,-9.4 C26.6,-9.0 30.1,-8.9 32.6,-7.7 M7.1,5.8 Q19.9,-3.0 32.6,6.3 M7.1,16.7 C10.3,11.5 16.1,6.5 22.6,7.2 C26.6,7.6 30.1,7.7 32.6,8.9 M7.1,21.4 C10.3,16.2 16.1,13.3 22.6,14.0 C26.6,14.4 30.1,14.5 32.6,15.7" stroke="#202020" stroke-width="3"/>
<path d="M7.1,-16.5 Q19.9,-26.3 32.6,-16.5 M7.1,-6.6 C10.3,-11.8 16.1,-15.8 22.6,-15.1 C26.6,-14.7 30.1,-14.6 32.6,-13.4 M7.1,-1.4 C10.3,-6.6 16.1,-10.1 22.6,-9.4 C26.6,-9.0 30.1,-8.9 32.6,-7.7 M7.1,5.8 Q19.9,-3.0 32.6,6.3 M7.1,16.7 C10.3,11.5 16.1,6.5 22.6,7.2 C26.6,7.6 30.1,7.7 32.6,8.9 M7.1,21.4 C10.3,16.2 16.1,13.3 22.6,14.0 C26.6,14.4 30.1,14.5 32.6,15.7" stroke="#fff" stroke-width="0.85"/>
</g>
<line x1="831.65" y1="132.20" x2="831.65" y2="199.70" stroke="#262626" stroke-width="1.0" />
<line x1="834.05" y1="132.20" x2="834.05" y2="199.70" stroke="#262626" stroke-width="1.0" />
<rect x="919.80" y="132.20" width="38.40" height="67.50" fill="#fff" stroke="#262626" stroke-width="1.62"/>
<line x1="921.80" y1="132.20" x2="921.80" y2="199.70" stroke="#262626" stroke-width="1.0" />
<line x1="919.80" y1="133.40" x2="958.20" y2="133.40" stroke="#262626" stroke-width="1.75" />
<line x1="919.80" y1="198.50" x2="958.20" y2="198.50" stroke="#262626" stroke-width="1.5" />
<g transform="translate(958.2,168.9) scale(-1,1)" fill="none" stroke-linecap="round">
<path d="M7.1,-16.5 Q19.9,-26.3 32.6,-16.5 M7.1,-6.6 C10.3,-11.8 16.1,-15.8 22.6,-15.1 C26.6,-14.7 30.1,-14.6 32.6,-13.4 M7.1,-1.4 C10.3,-6.6 16.1,-10.1 22.6,-9.4 C26.6,-9.0 30.1,-8.9 32.6,-7.7 M7.1,5.8 Q19.9,-3.0 32.6,6.3 M7.1,16.7 C10.3,11.5 16.1,6.5 22.6,7.2 C26.6,7.6 30.1,7.7 32.6,8.9 M7.1,21.4 C10.3,16.2 16.1,13.3 22.6,14.0 C26.6,14.4 30.1,14.5 32.6,15.7" stroke="#202020" stroke-width="3"/>
<path d="M7.1,-16.5 Q19.9,-26.3 32.6,-16.5 M7.1,-6.6 C10.3,-11.8 16.1,-15.8 22.6,-15.1 C26.6,-14.7 30.1,-14.6 32.6,-13.4 M7.1,-1.4 C10.3,-6.6 16.1,-10.1 22.6,-9.4 C26.6,-9.0 30.1,-8.9 32.6,-7.7 M7.1,5.8 Q19.9,-3.0 32.6,6.3 M7.1,16.7 C10.3,11.5 16.1,6.5 22.6,7.2 C26.6,7.6 30.1,7.7 32.6,8.9 M7.1,21.4 C10.3,16.2 16.1,13.3 22.6,14.0 C26.6,14.4 30.1,14.5 32.6,15.7" stroke="#fff" stroke-width="0.85"/>
</g>
<line x1="937.60" y1="132.20" x2="937.60" y2="199.70" stroke="#262626" stroke-width="1.0" />
<line x1="940.00" y1="132.20" x2="940.00" y2="199.70" stroke="#262626" stroke-width="1.0" />
<line x1="853.60" y1="101.00" x2="868.50" y2="121.50" stroke="#1c1c1c" stroke-width="3.12" stroke-dasharray="5.2 3.4"/>
<line x1="853.60" y1="101.00" x2="868.50" y2="121.50" stroke="#fff" stroke-width="0.69" stroke-dasharray="5.2 3.4"/>
<path d="M867.5,119.5 L871.5,125 L865,127.3 M853.5,130.2 q5,0.8 9,-1.2" fill="none" stroke="#262626" stroke-width="1.62" />
<line x1="853.60" y1="133.00" x2="868.50" y2="154.50" stroke="#1c1c1c" stroke-width="3.12" stroke-dasharray="5.2 3.4"/>
<line x1="853.60" y1="133.00" x2="868.50" y2="154.50" stroke="#fff" stroke-width="0.69" stroke-dasharray="5.2 3.4"/>
<line x1="853.60" y1="199.00" x2="868.50" y2="175.20" stroke="#1c1c1c" stroke-width="3.12" stroke-dasharray="5.2 3.4"/>
<line x1="853.60" y1="199.00" x2="868.50" y2="175.20" stroke="#fff" stroke-width="0.69" stroke-dasharray="5.2 3.4"/>
<path d="M866.8,156.4 L872.5,159.2 L866.3,161.8 M866.8,167.9 L872.5,170.6 L866.3,173.4 M854.5,164.3 h6 M857.5,164.3 v2.2" fill="none" stroke="#262626" stroke-width="1.62" />
<line x1="919.40" y1="101.00" x2="904.00" y2="121.50" stroke="#1c1c1c" stroke-width="3.12" stroke-dasharray="5.2 3.4"/>
<line x1="919.40" y1="101.00" x2="904.00" y2="121.50" stroke="#fff" stroke-width="0.69" stroke-dasharray="5.2 3.4"/>
<path d="M905,119.5 L901,125 L907.5,127.3 M919.5,130.2 q-5,0.8 -9,-1.2" fill="none" stroke="#262626" stroke-width="1.62" />
<line x1="919.40" y1="133.00" x2="903.70" y2="154.50" stroke="#1c1c1c" stroke-width="3.12" stroke-dasharray="5.2 3.4"/>
<line x1="919.40" y1="133.00" x2="903.70" y2="154.50" stroke="#fff" stroke-width="0.69" stroke-dasharray="5.2 3.4"/>
<line x1="919.40" y1="199.00" x2="903.70" y2="175.20" stroke="#1c1c1c" stroke-width="3.12" stroke-dasharray="5.2 3.4"/>
<line x1="919.40" y1="199.00" x2="903.70" y2="175.20" stroke="#fff" stroke-width="0.69" stroke-dasharray="5.2 3.4"/>
<path d="M905.4,156.4 L899.7,159.2 L905.9,161.8 M905.4,167.9 L899.7,170.6 L905.9,173.4 M918.5,164.3 h-6 M915.5,164.3 v2.2" fill="none" stroke="#262626" stroke-width="1.62" />
<rect x="950.60" y="207.40" width="7.00" height="15.20" fill="#fff" stroke="#262626" stroke-width="1.25"/>
<path d="M950.6,207.4 L950.6,222.6 L957.6,222.6 Z" fill="#111" stroke="#262626" stroke-width="0.62" />
<path d="M956,215 L975,237 L977,237" fill="none" stroke="#262626" stroke-width="1.25" />
<rect x="592.00" y="184.20" width="120.90" height="61.50" fill="none" stroke="#262626" stroke-width="1.38"/>
<rect x="592.00" y="395.00" width="120.90" height="62.00" fill="none" stroke="#262626" stroke-width="1.38"/>
<rect x="596.90" y="414.40" width="62.80" height="122.20" fill="none" stroke="#262626" stroke-width="1.12"/>
<path d="M621.1,190.8 Q608.6,188.8 596.6,190.1 Q594.6,190.3 595.1,193.3 Q596.6,214.3 594.5,237.3 Q595.1,239.7 598.1,239.3 Q608.1,238.3 618.1,239.8 Q620.6,239.9 620.5,236.3 Q618.9,213.3 621.9,193.3 Q622.1,191.1 621.1,190.8 Z" fill="none" stroke="#262626" stroke-width="1.25" />
<path d="M626.0,184.6 L665.0,244.7 Q652.7,243.7 641.3,242.0 Q636.7,224.2 630.7,208.2 Q624.7,194.2 622.7,184.6" fill="none" stroke="#262626" stroke-width="1.25" />
<path d="M621.1,401.7 Q608.6,399.7 596.6,401.0 Q594.6,401.2 595.1,404.2 Q596.6,425.2 594.5,448.2 Q595.1,450.6 598.1,450.2 Q608.1,449.2 618.1,450.7 Q620.6,450.8 620.5,447.2 Q618.9,424.2 621.9,404.2 Q622.1,402.0 621.1,401.7 Z" fill="none" stroke="#262626" stroke-width="1.25" />
<path d="M626.0,395.4 L665.0,455.5 Q652.7,454.5 641.3,452.8 Q636.7,435.0 630.7,419.0 Q624.7,405.0 622.7,395.4" fill="none" stroke="#262626" stroke-width="1.25" />
<rect x="592.60" y="300.80" width="77.60" height="39.60" fill="#fff" stroke="#262626" stroke-width="1.38"/>
<rect x="594.20" y="302.40" width="74.40" height="36.40" fill="none" stroke="#262626" stroke-width="0.88"/>
<rect x="671.80" y="300.80" width="79.80" height="39.60" fill="#fff" stroke="#262626" stroke-width="1.38"/>
<rect x="673.40" y="302.40" width="76.60" height="36.40" fill="none" stroke="#262626" stroke-width="0.88"/>
<g transform="translate(631.9,341.0) scale(1,1)" fill="none" stroke="#262626">
<path d="M-11.8,0 L-11.8,-7.5 Q-11.8,-10.3 -8,-10.7 Q0,-11.6 8,-10.7 Q11.8,-10.3 11.8,-7.5 L11.8,0" stroke-width="1.2" stroke-dasharray="2.2 1.1"/>
<path d="M-11.8,0 V9 M11.8,0 V9" stroke-width="1.3"/>
<path d="M-11.8,10.6 H11.8" stroke="#222" stroke-width="3.6"/>
<path d="M-8.6,10.4 h4.2 M-2.1,10.4 h4.2 M4.4,10.4 h4.2" stroke="#ddd" stroke-width="1.3"/>
<path d="M-15.2,-0.6 h3.2 M12,-0.6 h3.2" stroke-width="2.2"/>
<path d="M-7.5,12.4 q-1.5,3.5 -3.2,5 M7.5,12.4 q1.5,3.5 3.2,5" stroke-width="1.5"/>
<path d="M-12.2,17.6 h3.4 M8.8,17.6 h3.4" stroke-width="2.2"/>
</g>
<g transform="translate(711.1,300.0) scale(1,-1)" fill="none" stroke="#262626">
<path d="M-11.8,0 L-11.8,-7.5 Q-11.8,-10.3 -8,-10.7 Q0,-11.6 8,-10.7 Q11.8,-10.3 11.8,-7.5 L11.8,0" stroke-width="1.2" stroke-dasharray="2.2 1.1"/>
<path d="M-11.8,0 V9 M11.8,0 V9" stroke-width="1.3"/>
<path d="M-11.8,10.6 H11.8" stroke="#222" stroke-width="3.6"/>
<path d="M-8.6,10.4 h4.2 M-2.1,10.4 h4.2 M4.4,10.4 h4.2" stroke="#ddd" stroke-width="1.3"/>
<path d="M-15.2,-0.6 h3.2 M12,-0.6 h3.2" stroke-width="2.2"/>
<path d="M-7.5,12.4 q-1.5,3.5 -3.2,5 M7.5,12.4 q1.5,3.5 3.2,5" stroke-width="1.5"/>
<path d="M-12.2,17.6 h3.4 M8.8,17.6 h3.4" stroke-width="2.2"/>
</g>
<rect x="807.00" y="267.10" width="47.70" height="6.10" fill="#fff" stroke="#262626" stroke-width="1.25"/>
<rect x="813.00" y="267.10" width="36.50" height="6.10" fill="url(#hh)" stroke="#161616" stroke-width="1.75"/>
<rect x="898.20" y="267.10" width="60.40" height="6.10" fill="#fff" stroke="#262626" stroke-width="1.25"/>
<rect x="901.00" y="267.10" width="57.60" height="6.10" fill="url(#hh)" stroke="#161616" stroke-width="1.75"/>
<line x1="854.70" y1="273.20" x2="898.20" y2="273.20" stroke="#262626" stroke-width="1.0" />
<rect x="895.80" y="273.20" width="2.40" height="42.50" fill="none" stroke="#262626" stroke-width="1.0"/>
<path d="M854,273.2 A43,43 0 0 0 897,316.3" fill="none" stroke="#262626" stroke-width="1.25" />
<line x1="838.50" y1="273.20" x2="838.50" y2="391.00" stroke="#262626" stroke-width="1.12" />
<ellipse cx="827.3" cy="310.7" rx="10.3" ry="14.8" fill="none" stroke="#262626" stroke-width="1"/>
<ellipse cx="827.6" cy="311" rx="8.4" ry="12.8" fill="none" stroke="#262626" stroke-width="0.8"/>
<circle cx="824.50" cy="311.00" r="1.6" fill="none" stroke="#262626" stroke-width="1.12"/>
<path d="M820.5,300.5 l6,3.4" fill="none" stroke="#262626" stroke-width="3.25" />
<circle cx="820.20" cy="300.20" r="1.6" fill="#222" stroke="#262626" stroke-width="1.0"/>
<path d="M864,336 L878,336 Q881.5,336 882.5,339.5 L887.6,370 L888,384 Q888,387.6 884.5,387.6 L857.5,387.6 Q853.8,387.6 853.8,384 L854.2,370 L859.5,339.5 Q860.5,336 864,336 Z" fill="#fff" stroke="#262626" stroke-width="1.38" />
<path d="M864.5,338 L877.5,338 Q880,338 880.8,340.5 L885.8,370.5 L886,383.5 Q886,385.7 883.8,385.7 L858,385.7 Q855.8,385.7 855.8,383.5 L856,370.5 L861.2,340.5 Q862,338 864.5,338 Z" fill="none" stroke="#262626" stroke-width="1.0" />
<line x1="856.00" y1="370.40" x2="886.00" y2="370.40" stroke="#262626" stroke-width="1.12" />
<path d="M853.8,376 h-2.4 v3 h2.4" fill="none" stroke="#262626" stroke-width="1.0" />
<rect x="903.80" y="327.30" width="6.50" height="63.70" fill="url(#hv)" stroke="#161616" stroke-width="1.75"/>
<rect x="910.30" y="359.30" width="48.50" height="6.00" fill="url(#hh)" stroke="#161616" stroke-width="1.75"/>
<rect x="813.40" y="391.00" width="87.20" height="6.10" fill="#fff" stroke="#262626" stroke-width="1.12"/>
<line x1="816.00" y1="393.00" x2="900.60" y2="393.00" stroke="#999" stroke-width="0.75" />
<line x1="816.00" y1="395.10" x2="900.60" y2="395.10" stroke="#999" stroke-width="0.75" />
<rect x="813.40" y="391.00" width="2.60" height="6.10" fill="none" stroke="#262626" stroke-width="1.0"/>
<rect x="857.50" y="391.00" width="2.50" height="6.10" fill="#fff" stroke="#262626" stroke-width="1.0"/>
<rect x="900.60" y="391.00" width="9.70" height="6.10" fill="#fff" stroke="#262626" stroke-width="1.25"/>
<rect x="910.30" y="391.00" width="48.50" height="6.10" fill="url(#hh)" stroke="#161616" stroke-width="1.75"/>
<path d="M927,357.6 q6.6,-5 13.2,0 Z" fill="#222" stroke="#262626" stroke-width="1.25" />
<path d="M933.6,354 v-9 M931.6,346 h4 M931.6,348.5 h4" fill="none" stroke="#262626" stroke-width="2.0" />
<rect x="592.00" y="541.80" width="105.50" height="7.00" fill="#fff" stroke="#262626" stroke-width="1.12"/>
<line x1="595.00" y1="544.00" x2="692.00" y2="544.00" stroke="#999" stroke-width="0.75" />
<line x1="595.00" y1="546.40" x2="692.00" y2="546.40" stroke="#999" stroke-width="0.75" />
<rect x="592.00" y="541.80" width="3.00" height="7.00" fill="none" stroke="#262626" stroke-width="1.0"/>
<rect x="642.90" y="541.80" width="2.70" height="7.00" fill="#fff" stroke="#262626" stroke-width="1.0"/>
<rect x="692.00" y="541.80" width="5.50" height="13.20" fill="#fff" stroke="#262626" stroke-width="1.0"/>
<line x1="692.00" y1="548.80" x2="697.50" y2="548.80" stroke="#262626" stroke-width="1.0" />
<rect x="647.00" y="554.60" width="45.00" height="2.40" fill="#888" stroke="#262626" stroke-width="1.0"/>
<path d="M647.3,557 A44.5,44.5 0 0 0 691.5,600.5" fill="none" stroke="#262626" stroke-width="1.25" />
<line x1="691.50" y1="555.00" x2="691.50" y2="608.00" stroke="#262626" stroke-width="1.12" />
<rect x="691.40" y="601.00" width="115.20" height="55.60" fill="none" stroke="#262626" stroke-width="1.25"/>
<rect x="698.00" y="601.00" width="102.00" height="7.00" fill="#fff" stroke="#262626" stroke-width="1.12"/>
<line x1="701.00" y1="603.20" x2="797.00" y2="603.20" stroke="#999" stroke-width="0.75" />
<line x1="701.00" y1="605.60" x2="797.00" y2="605.60" stroke="#999" stroke-width="0.75" />
<rect x="691.40" y="601.00" width="6.60" height="7.00" fill="#fff" stroke="#262626" stroke-width="1.12"/>
<rect x="800.00" y="601.00" width="6.60" height="7.00" fill="#fff" stroke="#262626" stroke-width="1.12"/>
<rect x="797.00" y="601.00" width="3.00" height="7.00" fill="none" stroke="#262626" stroke-width="1.0"/>
<rect x="692.00" y="608.00" width="6.00" height="43.00" fill="url(#hvf)" stroke="#161616" stroke-width="1.75"/>
<rect x="691.40" y="651.00" width="6.60" height="5.60" fill="#fff" stroke="#262626" stroke-width="1.12"/>
<rect x="800.00" y="651.00" width="6.60" height="5.60" fill="#fff" stroke="#262626" stroke-width="1.12"/>
<rect x="698.00" y="651.00" width="102.00" height="5.60" fill="url(#hh)" stroke="#161616" stroke-width="1.75"/>
<rect x="706.60" y="602.00" width="44.80" height="45.60" fill="none" stroke="#262626" stroke-width="1.12"/>
<line x1="703.00" y1="600.60" x2="749.00" y2="600.60" stroke="#444" stroke-width="2.0" />
<rect x="758.00" y="607.60" width="38.00" height="27.40" fill="none" stroke="#262626" stroke-width="1.12"/>
<rect x="759.60" y="609.20" width="34.80" height="24.20" fill="none" stroke="#262626" stroke-width="0.75"/>
<line x1="758.00" y1="636.80" x2="796.00" y2="636.80" stroke="#444" stroke-width="2.0" />
<rect x="758.00" y="638.40" width="38.00" height="8.20" fill="none" stroke="#262626" stroke-width="1.25"/>
<rect x="760.00" y="640.40" width="14.00" height="4.60" fill="none" stroke="#262626" stroke-width="1.0"/>
<circle cx="782.00" cy="642.60" r="1.6" fill="none" stroke="#262626" stroke-width="1.0"/>
<circle cx="789.00" cy="642.60" r="1.6" fill="none" stroke="#262626" stroke-width="1.0"/>
<line x1="592.00" y1="652.00" x2="691.40" y2="652.00" stroke="#262626" stroke-width="1.12" />
<line x1="592.00" y1="656.60" x2="691.40" y2="656.60" stroke="#262626" stroke-width="1.12" />
<line x1="592.00" y1="669.00" x2="807.00" y2="669.00" stroke="#262626" stroke-width="1.25" />
<rect x="613.00" y="669.00" width="7.20" height="12.80" fill="none" stroke="#262626" stroke-width="1.12"/>
<rect x="640.40" y="669.00" width="7.20" height="12.80" fill="none" stroke="#262626" stroke-width="1.12"/>
<rect x="668.00" y="669.00" width="7.20" height="12.80" fill="none" stroke="#262626" stroke-width="1.12"/>
<rect x="696.00" y="669.00" width="7.20" height="12.80" fill="none" stroke="#262626" stroke-width="1.12"/>
<rect x="723.20" y="669.00" width="7.20" height="12.80" fill="none" stroke="#262626" stroke-width="1.12"/>
<rect x="751.00" y="669.00" width="7.20" height="12.80" fill="none" stroke="#262626" stroke-width="1.12"/>
<rect x="778.60" y="669.00" width="7.20" height="12.80" fill="none" stroke="#262626" stroke-width="1.12"/>
<path d="M684.00,73.00 A54.22,54.22 0 0 0 688.00,160.00" fill="none" stroke="#262626" stroke-width="1.25" />
<path d="M707,58.6 L679,68 L683.5,71.8 L685,76.4 Z" fill="url(#h2)" stroke="#262626" stroke-width="1.12" />
<path d="M702.6,91 A44.41,44.41 0 0 1 791.4,93" fill="none" stroke="#262626" stroke-width="1.25" />
<path d="M694.00,172.00 A102.73,102.73 0 0 0 746.00,254.00" fill="none" stroke="#262626" stroke-width="1.25" />
<path d="M642.50,256.50 A180.59,180.59 0 0 1 745.50,255.50" fill="none" stroke="#262626" stroke-width="1.25" />
<path d="M758,253 C775,238 800,231 822,227 C850,222 880,212 887,192" fill="none" stroke="#262626" stroke-width="1.25" />
<path d="M888.00,192.00 A109.50,109.50 0 0 1 933.50,281.00" fill="none" stroke="#262626" stroke-width="1.25" />
<path d="M750.50,266.00 A96.79,96.79 0 0 0 751.00,358.50" fill="none" stroke="#262626" stroke-width="1.25" />
<path d="M642.00,366.00 A221.87,221.87 0 0 1 745.00,365.00" fill="none" stroke="#262626" stroke-width="1.25" />
<path d="M752.50,374.00 A147.52,147.52 0 0 1 702.00,461.00" fill="none" stroke="#262626" stroke-width="1.25" />
<path d="M699.50,475.00 A94.43,94.43 0 0 1 753.00,558.00" fill="none" stroke="#262626" stroke-width="1.25" />
<path d="M745,564 C725,556.5 705,554 690,557 C670,561 652,578 642.5,594" fill="none" stroke="#262626" stroke-width="1.25" />
<path d="M934.50,297.00 A73.91,73.91 0 0 1 851.00,310.50" fill="none" stroke="#262626" stroke-width="1.25" />
<use href="#lt" x="693.50" y="164.00"/>
<use href="#lt" x="635.00" y="258.60"/>
<use href="#lt" x="752.60" y="258.60"/>
<use href="#lt" x="887.00" y="183.80"/>
<use href="#lt" x="933.30" y="289.00"/>
<use href="#lt" x="843.30" y="310.20"/>
<use href="#lt" x="634.30" y="366.20"/>
<use href="#lt" x="752.40" y="366.00"/>
<use href="#lt" x="697.00" y="467.60"/>
<use href="#lt" x="752.60" y="565.60"/>
<circle cx="641.50" cy="600.30" r="6" fill="none" stroke="#262626" stroke-width="1.25"/>
<circle cx="641.50" cy="600.30" r="4" fill="none" stroke="#262626" stroke-width="1.25"/>
<text class="t" aria-label="LPxxx-1" y="62.6" font-size="33" fill="#222" stroke-width="0.15"><tspan x="714.07" textLength="17.94" lengthAdjust="spacingAndGlyphs">L</tspan><tspan x="730.47" textLength="27.32" lengthAdjust="spacingAndGlyphs">P</tspan><tspan x="760.82" font-size="29.2" textLength="16.75" lengthAdjust="spacingAndGlyphs">x</tspan><tspan x="778.93" font-size="29.2" textLength="17.74" lengthAdjust="spacingAndGlyphs">x</tspan><tspan x="797.98" font-size="29.2" textLength="17.25" lengthAdjust="spacingAndGlyphs">x</tspan><tspan x="816.11" textLength="28.79" lengthAdjust="spacingAndGlyphs">-</tspan><tspan x="846.22" textLength="13.20" lengthAdjust="spacingAndGlyphs">1</tspan></text>
<text class="t" aria-label="Sa-c" y="123.4" font-size="40" fill="#222" stroke-width="0.15"><tspan x="668.17" textLength="27.34" lengthAdjust="spacingAndGlyphs">S</tspan><tspan x="695.46" font-size="35.4" textLength="26.42" lengthAdjust="spacingAndGlyphs">a</tspan><tspan x="720.36" textLength="34.27" lengthAdjust="spacingAndGlyphs">-</tspan><tspan x="757.23" font-size="35.4" textLength="22.29" lengthAdjust="spacingAndGlyphs">c</tspan></text>
<text class="t" aria-label="a" y="174.2" font-size="36" fill="#222" stroke-width="0.15"><tspan x="706.10" textLength="26.13" lengthAdjust="spacingAndGlyphs">a</tspan></text>
<text class="t" aria-label="b" y="286.4" font-size="36" fill="#222" stroke-width="0.15"><tspan x="641.84" textLength="24.19" lengthAdjust="spacingAndGlyphs">b</tspan></text>
<text class="t" aria-label="b" y="286.4" font-size="36" fill="#222" stroke-width="0.15"><tspan x="759.59" textLength="24.48" lengthAdjust="spacingAndGlyphs">b</tspan></text>
<text class="t" aria-label="d" y="171.0" font-size="36" fill="#222" stroke-width="0.15"><tspan x="875.66" textLength="25.05" lengthAdjust="spacingAndGlyphs">d</tspan></text>
<text class="t" aria-label="Sd-f" y="261.4" font-size="39.5" fill="#222" stroke-width="0.15"><tspan x="798.76" textLength="28.16" lengthAdjust="spacingAndGlyphs">S</tspan><tspan x="826.71" textLength="26.20" lengthAdjust="spacingAndGlyphs">d</tspan><tspan x="851.13" textLength="34.54" lengthAdjust="spacingAndGlyphs">-</tspan><tspan x="889.09" textLength="14.05" lengthAdjust="spacingAndGlyphs">f</tspan></text>
<text class="t" aria-label="e" y="308.0" font-size="36" fill="#222" stroke-width="0.15"><tspan x="852.03" textLength="23.11" lengthAdjust="spacingAndGlyphs">e</tspan></text>
<text class="t" aria-label="f" y="311.7" font-size="36" fill="#222" stroke-width="0.15"><tspan x="944.17" textLength="11.85" lengthAdjust="spacingAndGlyphs">f</tspan></text>
<text class="t" aria-label="LPxxx" y="249.0" font-size="33" fill="#222" stroke-width="0.15"><tspan x="972.59" textLength="20.14" lengthAdjust="spacingAndGlyphs">L</tspan><tspan x="992.05" textLength="24.44" lengthAdjust="spacingAndGlyphs">P</tspan><tspan x="1018.82" font-size="29.2" textLength="16.75" lengthAdjust="spacingAndGlyphs">x</tspan><tspan x="1038.49" font-size="29.2" textLength="16.01" lengthAdjust="spacingAndGlyphs">x</tspan><tspan x="1057.49" font-size="29.2" textLength="16.01" lengthAdjust="spacingAndGlyphs">x</tspan></text>
<text class="t" aria-label="c" y="362.2" font-size="36" fill="#222" stroke-width="0.15"><tspan x="760.33" textLength="21.50" lengthAdjust="spacingAndGlyphs">c</tspan></text>
<text class="t" aria-label="g" y="353.6" font-size="36" fill="#222" stroke-width="0.15"><tspan x="642.46" textLength="24.09" lengthAdjust="spacingAndGlyphs">g</tspan></text>
<text class="t" aria-label="Sg,h" y="396.8" font-size="39.5" fill="#222" stroke-width="0.15"><tspan x="589.83" textLength="27.62" lengthAdjust="spacingAndGlyphs">S</tspan><tspan x="617.87" font-size="35.0" textLength="23.27" lengthAdjust="spacingAndGlyphs">g</tspan><tspan x="641.49" textLength="12.56" lengthAdjust="spacingAndGlyphs">,</tspan><tspan x="655.66" textLength="24.85" lengthAdjust="spacingAndGlyphs">h</tspan></text>
<text class="t" aria-label="h" y="476.4" font-size="36" fill="#222" stroke-width="0.15"><tspan x="709.27" textLength="24.24" lengthAdjust="spacingAndGlyphs">h</tspan></text>
<text class="t" aria-label="i" y="558.0" font-size="36" fill="#222" stroke-width="0.15"><tspan x="730.16" textLength="10.00" lengthAdjust="spacingAndGlyphs">i</tspan></text>
<text class="t" aria-label="j" y="613.0" font-size="36" fill="#222" stroke-width="0.15"><tspan x="661.65" textLength="10.00" lengthAdjust="spacingAndGlyphs">j</tspan></text>
<text class="t" aria-label="Si,j" y="0" font-size="39.5" fill="#222" stroke-width="0.15" transform="translate(795.6,523.0) rotate(-90)"><tspan x="-3.73" textLength="26.66" lengthAdjust="spacingAndGlyphs">S</tspan><tspan x="23.76" textLength="10.97" lengthAdjust="spacingAndGlyphs">i</tspan><tspan x="34.49" textLength="12.56" lengthAdjust="spacingAndGlyphs">,</tspan><tspan x="54.71" textLength="10.97" lengthAdjust="spacingAndGlyphs">j</tspan></text>
<text class="s" x="718" y="624" font-size="8.2" fill="#222" textLength="105" lengthAdjust="spacingAndGlyphs">??????????????????????</text>
<text class="s" y="725.6" font-size="16" fill="#222"><tspan x="585" textLength="58.0" lengthAdjust="spacingAndGlyphs">Lighting</tspan><tspan x="654.5" textLength="53.5" lengthAdjust="spacingAndGlyphs">System</tspan><tspan x="719.4" textLength="30.6" lengthAdjust="spacingAndGlyphs">Plan</tspan><tspan x="762.6" textLength="19.4" lengthAdjust="spacingAndGlyphs">for</tspan><tspan x="792.4" textLength="41.0" lengthAdjust="spacingAndGlyphs">Room</tspan><tspan x="847" textLength="31.0" lengthAdjust="spacingAndGlyphs">Type</tspan><tspan x="888.3" textLength="10.3" lengthAdjust="spacingAndGlyphs">C</tspan></text>
<line x1="585.00" y1="729.60" x2="897.00" y2="729.60" stroke="#262626" stroke-width="1.38" />
</svg>
</body></html>
